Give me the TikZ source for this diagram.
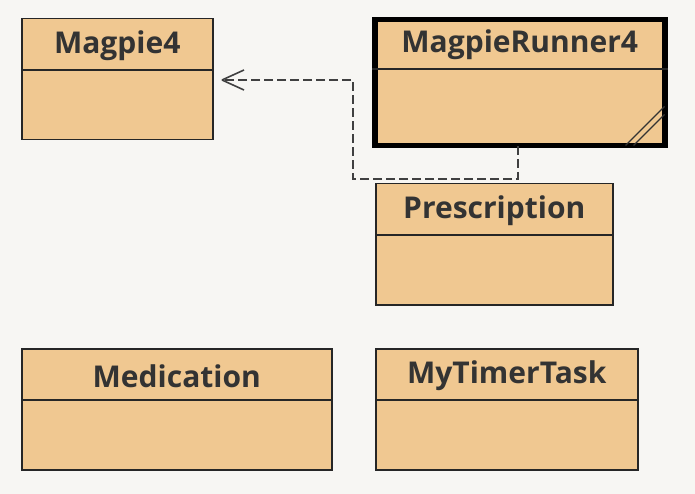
\documentclass[tikz,border=0pt]{standalone}
\usepackage{fontspec}
\setmainfont{Open Sans}
\usetikzlibrary{arrows.meta}
\definecolor{bgc}{RGB}{247,246,243}
\definecolor{boxc}{RGB}{240,200,145}
\definecolor{txt}{RGB}{51,51,51}
\tikzset{
 cls/.style={draw=black!85,line width=1.5pt,fill=boxc,anchor=north west,inner sep=0pt},
 ttl/.style={font=\fontsize{30}{34}\selectfont\bfseries,text=txt,anchor=center},
 dep/.style={draw=black!75,line width=1.6pt,dash pattern=on 9pt off 4pt},
}
\newcommand{\umlcls}[7]{% name x y w h headerh label
 \node[cls,minimum width=#4pt,minimum height=#5pt] (#1) at (#2,#3) {};
 \draw[black!85,line width=1.3pt] ([yshift=-#6pt]#1.north west) -- ([yshift=-#6pt]#1.north east);
 \node[ttl] (#1t) at ([yshift=-#6pt/2-2pt]#1.north) {#7};
}
\begin{document}
\begin{tikzpicture}[x=1pt,y=-1pt]
\fill[bgc] (0,0) rectangle (695,494);
\useasboundingbox (0,0) rectangle (695,494);
\umlcls{m4}{21}{18}{191}{121}{52}{Magpie4}
\umlcls{pr}{375}{183}{237}{121}{52}{Prescription}
\umlcls{med}{21}{348}{310}{121}{52}{Medication}
\umlcls{tt}{375}{348}{262}{121}{52}{MyTimerTask}
\node[cls,draw=black,line width=5.5pt,minimum width=290pt,minimum height=126pt] (mr) at (372,17) {};
\draw[black!85,line width=1.3pt] ([yshift=-52pt]mr.north west) -- ([yshift=-52pt]mr.north east);
\node[ttl] (mrt) at ([yshift=-28pt]mr.north) {MagpieRunner4};
\draw[black!80,line width=1.2pt] ([xshift=-42pt,yshift=3pt]mr.south east) -- ([xshift=-3pt,yshift=42pt]mr.south east);
\draw[black!80,line width=1.2pt] ([xshift=-34pt,yshift=3pt]mr.south east) -- ([xshift=-3pt,yshift=34pt]mr.south east);
\coordinate (c0) at (518,146);
\coordinate (c1) at (518,179);
\coordinate (c2) at (353,179);
\coordinate (c3) at (353,80);
\coordinate (c4) at (222,80);
\draw[dep] (c0) -- (c1) -- (c2) -- (c3) -- (c4);
\draw[black!75,line width=1.6pt] (c4) -- ++(22,-10) (c4) -- ++(22,10);
\end{tikzpicture}
\end{document}
